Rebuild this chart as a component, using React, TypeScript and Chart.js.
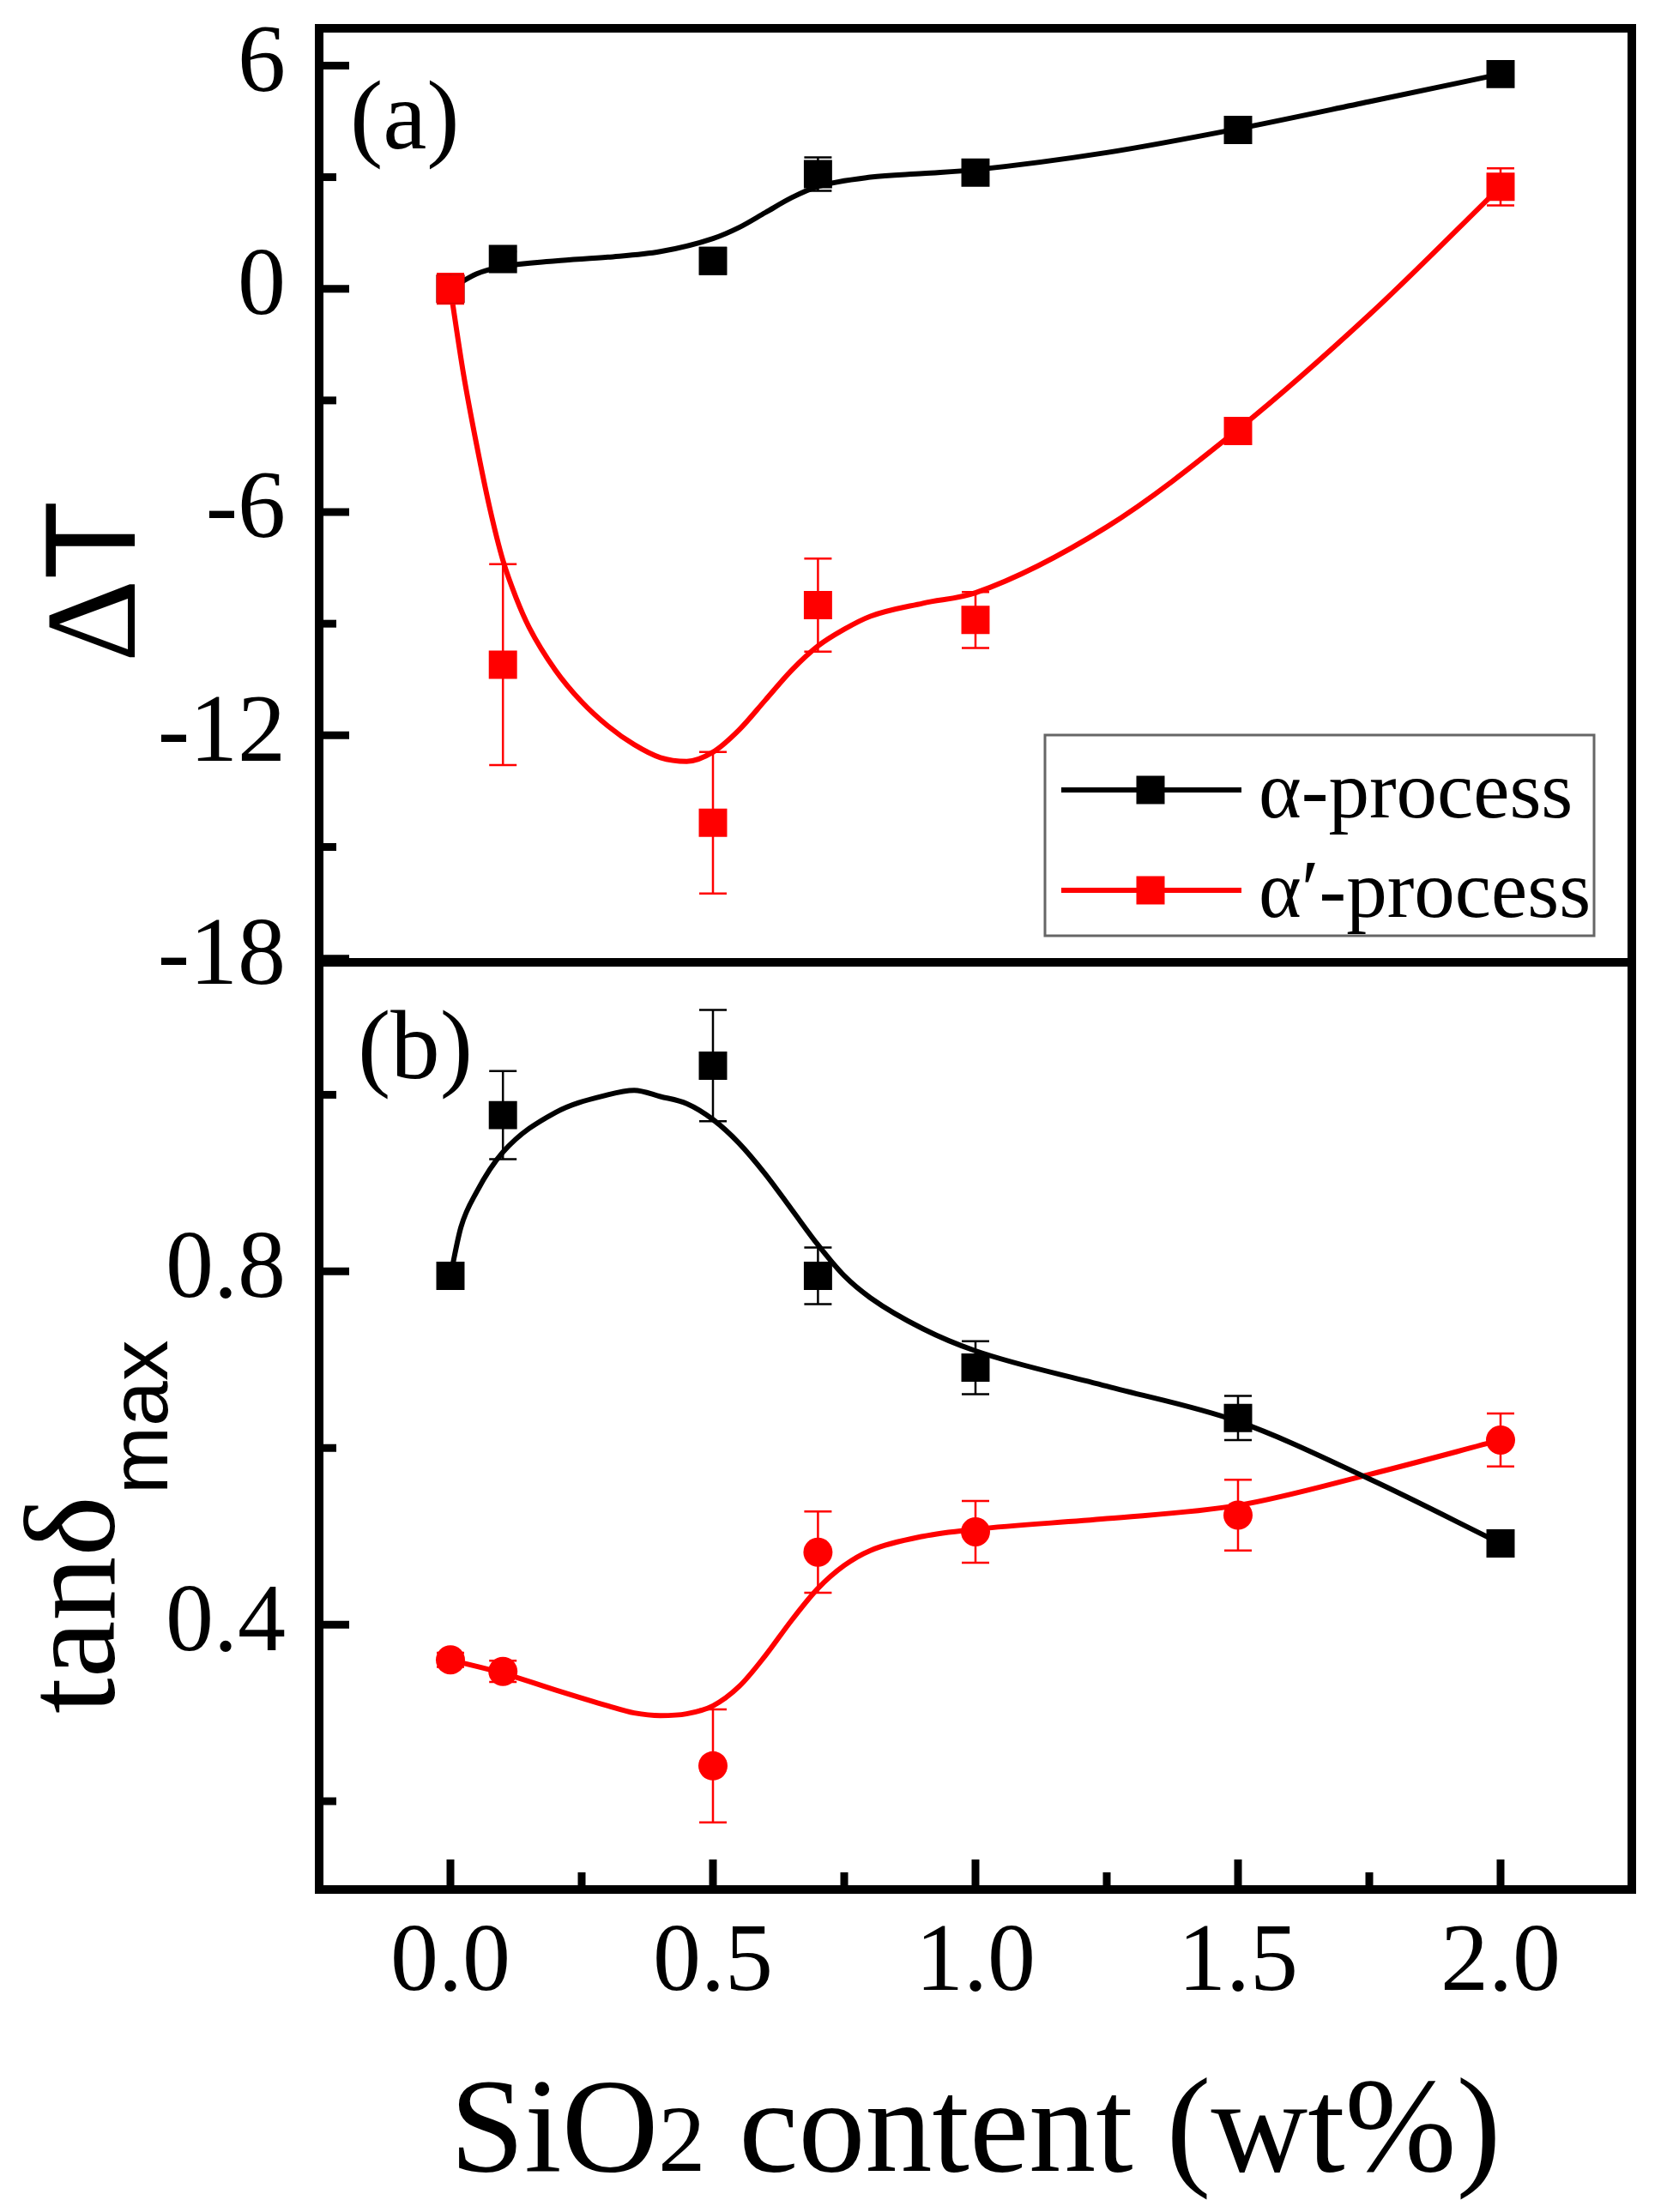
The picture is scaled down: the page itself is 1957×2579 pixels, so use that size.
import { useEffect, useRef } from "react";
import { Chart, registerables } from "chart.js";

Chart.register(...registerables);

const SERIF = "'Liberation Serif', 'Times New Roman', serif";
const SANS = "'Liberation Sans', Arial, sans-serif";

// SiO2 content (wt%)
const contents = [0, 0.1, 0.5, 0.7, 1.0, 1.5, 2.0];

// (a) ΔT
const dTAlpha = [0, 0.8, 0.75, 3.08, 3.12, 4.27, 5.77];
const dTAlphaErr = [0.2, 0.2, 0.35, 0.45, 0.2, 0.2, 0.2];
const dTAlphaP = [0, -10.1, -14.35, -8.5, -8.9, -3.82, 2.74];
const dTAlphaPErr = [0.4, 2.7, 1.9, 1.25, 0.75, 0.3, 0.5];

// (b) tanδmax
const tanAlpha = [0.795, 0.977, 1.033, 0.795, 0.691, 0.634, 0.492];
const tanAlphaErr = [0.01, 0.05, 0.063, 0.032, 0.03, 0.025, 0.012];
const tanAlphaP = [0.36, 0.347, 0.24, 0.482, 0.505, 0.524, 0.609];
const tanAlphaPErr = [0.008, 0.012, 0.064, 0.046, 0.035, 0.04, 0.03];

// guide curves
const dTAlphaFitX = [0, 0.05, 0.1, 0.2, 0.3, 0.4, 0.5, 0.55, 0.6, 0.65, 0.7, 0.8, 0.9, 1.0, 1.25, 1.5, 1.75, 2.0];
const dTAlphaFit = [0, 0.4, 0.6, 0.75, 0.85, 1.0, 1.35, 1.65, 2.05, 2.45, 2.75, 3.0, 3.1, 3.2, 3.66, 4.3, 5.03, 5.77];
const dTAlphaPFitX = [0, 0.025, 0.05, 0.075, 0.1, 0.125, 0.15, 0.2, 0.25, 0.3, 0.35, 0.4, 0.45, 0.5, 0.55, 0.6, 0.65, 0.7, 0.75, 0.8, 0.9, 1.0, 1.25, 1.5, 1.75, 2.0];
const dTAlphaPFit = [0, -2.3, -4.2, -5.9, -7.3, -8.3, -9.1, -10.25, -11.1, -11.75, -12.25, -12.6, -12.7, -12.45, -11.85, -11.05, -10.25, -9.6, -9.15, -8.8, -8.45, -8.17, -6.4, -3.78, -0.7, 2.74];
const tanAlphaFitX = [0, 0.02, 0.05, 0.1, 0.2, 0.3, 0.35, 0.4, 0.45, 0.5, 0.55, 0.6, 0.65, 0.7, 0.75, 0.8, 0.9, 1.0, 1.25, 1.5, 1.75, 2.0];
const tanAlphaFit = [0.795, 0.85, 0.89, 0.935, 0.98, 1.0, 1.005, 0.998, 0.99, 0.972, 0.945, 0.91, 0.87, 0.83, 0.795, 0.77, 0.735, 0.71, 0.67, 0.63, 0.565, 0.492];
const tanAlphaPFitX = [0, 0.1, 0.2, 0.3, 0.35, 0.4, 0.45, 0.5, 0.55, 0.6, 0.65, 0.7, 0.75, 0.8, 0.9, 1.0, 1.25, 1.5, 1.75, 2.0];
const tanAlphaPFit = [0.36, 0.345, 0.326, 0.308, 0.3, 0.297, 0.299, 0.308, 0.33, 0.365, 0.405, 0.441, 0.467, 0.484, 0.5, 0.508, 0.52, 0.535, 0.57, 0.609];

// ticks
const xMajor = [0, 0.5, 1.0, 1.5, 2.0];
const xMinor = [0.25, 0.75, 1.25, 1.75];
const topMajor = [6, 0, -6, -12, -18];
const topMinor = [3, -3, -9, -15];
const botMajor = [0.4, 0.8];
const botMinor = [0.2, 0.6, 1.0];

const legendLabels = ["α-process", "α′-process"];

const pts = (xs: number[], ys: number[]) => xs.map((x, i) => ({ x, y: ys[i] }));

const errorBars = {
  id: "errorBars",
  beforeDatasetsDraw(chart: any) {
    const { ctx } = chart;
    ctx.save();
    chart.data.datasets.forEach((ds: any) => {
      if (!ds.errors) return;
      const ys = chart.scales[ds.yAxisID];
      const xs = chart.scales.x;
      ctx.strokeStyle = ds.backgroundColor;
      ctx.lineWidth = 2.5;
      ds.data.forEach((p: any, i: number) => {
        const px = xs.getPixelForValue(p.x);
        const hi = ys.getPixelForValue(p.y + ds.errors[i]);
        const lo = ys.getPixelForValue(p.y - ds.errors[i]);
        ctx.beginPath();
        ctx.moveTo(px, hi);
        ctx.lineTo(px, lo);
        ctx.moveTo(px - 16, hi);
        ctx.lineTo(px + 16, hi);
        ctx.moveTo(px - 16, lo);
        ctx.lineTo(px + 16, lo);
        ctx.stroke();
      });
    });
    ctx.restore();
  },
};

const frame = {
  id: "frame",
  afterDraw(chart: any) {
    const { ctx, chartArea: a, scales } = chart;
    const { x, yT, yB } = scales;
    ctx.save();
    ctx.strokeStyle = "#000";
    ctx.lineJoin = "miter";
    ctx.lineWidth = 10;
    ctx.strokeRect(a.left, a.top, a.right - a.left, a.bottom - a.top);
    ctx.beginPath();
    ctx.moveTo(a.left, yT.bottom);
    ctx.lineTo(a.right, yT.bottom);
    ctx.stroke();

    // inward ticks
    ctx.lineWidth = 9;
    const yTick = (s: any, v: number, len: number) => {
      const p = s.getPixelForValue(v);
      ctx.beginPath();
      ctx.moveTo(a.left, p);
      ctx.lineTo(a.left + len, p);
      ctx.stroke();
    };
    topMajor.forEach((v) => yTick(yT, v, 35));
    topMinor.forEach((v) => yTick(yT, v, 20));
    botMajor.forEach((v) => yTick(yB, v, 35));
    botMinor.forEach((v) => yTick(yB, v, 20));
    const xTick = (v: number, len: number) => {
      const p = x.getPixelForValue(v);
      ctx.beginPath();
      ctx.moveTo(p, a.bottom);
      ctx.lineTo(p, a.bottom - len);
      ctx.stroke();
    };
    xMajor.forEach((v) => xTick(v, 35));
    xMinor.forEach((v) => xTick(v, 20));

    // panel labels
    ctx.fillStyle = "#000";
    ctx.textAlign = "left";
    ctx.textBaseline = "alphabetic";
    ctx.font = `115px ${SERIF}`;
    ctx.fillText("(a)", a.left + 36, yT.top + 140);
    ctx.fillText("(b)", a.left + 45, yB.top + 135);

    // y titles
    ctx.save();
    ctx.translate(157, 678);
    ctx.rotate(-Math.PI / 2);
    ctx.font = `150px ${SERIF}`;
    const wD = ctx.measureText("Δ").width;
    ctx.font = `150px ${SANS}`;
    const wT = ctx.measureText("T").width;
    const sx = -(wD + wT) / 2;
    ctx.font = `150px ${SERIF}`;
    ctx.fillText("Δ", sx, 0);
    ctx.font = `150px ${SANS}`;
    ctx.fillText("T", sx + wD, 0);
    ctx.restore();

    ctx.save();
    ctx.translate(133, 1998);
    ctx.rotate(-Math.PI / 2);
    ctx.font = `150px ${SERIF}`;
    ctx.fillText("tanδ", 0, 0);
    const wt = ctx.measureText("tanδ").width;
    ctx.font = `95px ${SANS}`;
    ctx.fillText("max", wt + 2, 62);
    ctx.restore();

    // x title
    const cx = (a.left + a.right) / 2;
    ctx.font = `156px ${SERIF}`;
    const w1 = ctx.measureText("SiO").width;
    const w3 = ctx.measureText(" content (wt%)").width;
    ctx.font = `110px ${SERIF}`;
    const w2 = ctx.measureText("2").width;
    const tx = cx - (w1 + w2 + w3) / 2;
    const by = 2531;
    ctx.font = `156px ${SERIF}`;
    ctx.fillText("SiO", tx, by);
    ctx.font = `110px ${SERIF}`;
    ctx.fillText("2", tx + w1, by);
    ctx.font = `156px ${SERIF}`;
    ctx.fillText(" content (wt%)", tx + w1 + w2, by);

    // legend
    const lx = 1218, ly = 857, lw = 640, lh = 234;
    ctx.lineWidth = 3;
    ctx.strokeStyle = "#666";
    ctx.strokeRect(lx, ly, lw, lh);
    const rows = [
      { color: "#000000", lineY: 921, base: 953 },
      { color: "#ff0000", lineY: 1038, base: 1069 },
    ];
    rows.forEach((r, i) => {
      ctx.strokeStyle = r.color;
      ctx.lineWidth = 6;
      ctx.beginPath();
      ctx.moveTo(1237, r.lineY);
      ctx.lineTo(1447, r.lineY);
      ctx.stroke();
      ctx.fillStyle = r.color;
      ctx.fillRect(1341 - 16.5, r.lineY - 16.5, 33, 33);
      ctx.fillStyle = "#000";
      ctx.font = `95px ${SERIF}`;
      ctx.fillText(legendLabels[i], 1467, r.base);
    });
    ctx.restore();
  },
};

export default function App() {
  const canvasRef = useRef<HTMLCanvasElement>(null);
  const chartRef = useRef<Chart | null>(null);

  useEffect(() => {
    document.body.style.margin = "0";
    if (!canvasRef.current) return;
    if (chartRef.current) chartRef.current.destroy();

    const marker = (label: string, xs: number[], ys: number[], errs: number[], axis: string, color: string, style: string, r: number) => ({
      type: "line" as const,
      label,
      data: pts(xs, ys),
      errors: errs,
      yAxisID: axis,
      showLine: false,
      pointStyle: style,
      pointRadius: r,
      pointBorderWidth: 0,
      backgroundColor: color,
      borderColor: color,
    });
    const curve = (xs: number[], ys: number[], axis: string, color: string) => ({
      type: "line" as const,
      data: pts(xs, ys),
      yAxisID: axis,
      borderColor: color,
      borderWidth: 6,
      pointRadius: 0,
      cubicInterpolationMode: "monotone" as const,
      fill: false,
    });

    const yBase = (min: number, max: number, major: number[], weight: number, fmt: (v: number) => string) => ({
      type: "linear" as const,
      position: "left" as const,
      stack: "panels",
      stackWeight: weight,
      min,
      max,
      grid: { display: false, drawTicks: false },
      border: { display: false },
      afterBuildTicks: (s: any) => {
        s.ticks = major.map((v) => ({ value: v }));
      },
      afterFit: (s: any) => {
        s.width = 372;
        s.paddingTop = 0;
        s.paddingBottom = 0;
      },
      ticks: {
        color: "#000",
        padding: 39,
        autoSkip: false,
        font: { family: SERIF, size: 112 },
        callback: (v: any) => fmt(Number(v)),
      },
    });

    chartRef.current = new Chart(canvasRef.current, {
      type: "line",
      data: {
        datasets: [
          marker(legendLabels[1], contents, dTAlphaP, dTAlphaPErr, "yT", "#ff0000", "rect", 23.3),
          marker(legendLabels[0], contents, dTAlpha, dTAlphaErr, "yT", "#000000", "rect", 23.3),
          marker(legendLabels[0], contents, tanAlpha, tanAlphaErr, "yB", "#000000", "rect", 23.3),
          marker(legendLabels[1], contents, tanAlphaP, tanAlphaPErr, "yB", "#ff0000", "circle", 17),
          curve(dTAlphaFitX, dTAlphaFit, "yT", "#000000"),
          curve(dTAlphaPFitX, dTAlphaPFit, "yT", "#ff0000"),
          curve(tanAlphaFitX, tanAlphaFit, "yB", "#000000"),
          curve(tanAlphaPFitX, tanAlphaPFit, "yB", "#ff0000"),
        ] as any,
      },
      options: {
        animation: false,
        responsive: true,
        maintainAspectRatio: false,
        devicePixelRatio: 1,
        layout: { padding: { top: 33, right: 55, left: 0, bottom: 0 } },
        plugins: { legend: { display: false }, tooltip: { enabled: false } },
        scales: {
          x: {
            type: "linear",
            min: -0.25,
            max: 2.25,
            grid: { display: false, drawTicks: false },
            border: { display: false },
            afterBuildTicks: (s: any) => {
              s.ticks = xMajor.map((v) => ({ value: v }));
            },
            afterFit: (s: any) => {
              s.height = 376;
              s.paddingLeft = 0;
              s.paddingRight = 0;
            },
            ticks: {
              color: "#000",
              padding: 20,
              autoSkip: false,
              maxRotation: 0,
              font: { family: SERIF, size: 112 },
              callback: (v: any) => Number(v).toFixed(1),
            },
          },
          yB: yBase(0.1, 1.15, botMajor, 1081, (v) => v.toFixed(1)),
          yT: yBase(-18.1, 7, topMajor, 1089, (v) => String(v)),
        } as any,
      },
      plugins: [errorBars, frame],
    });

    return () => {
      if (chartRef.current) {
        chartRef.current.destroy();
        chartRef.current = null;
      }
    };
  }, []);

  return (
    <div style={{ width: 1957, height: 2579, position: "relative", background: "#fff" }}>
      <canvas ref={canvasRef}></canvas>
    </div>
  );
}
